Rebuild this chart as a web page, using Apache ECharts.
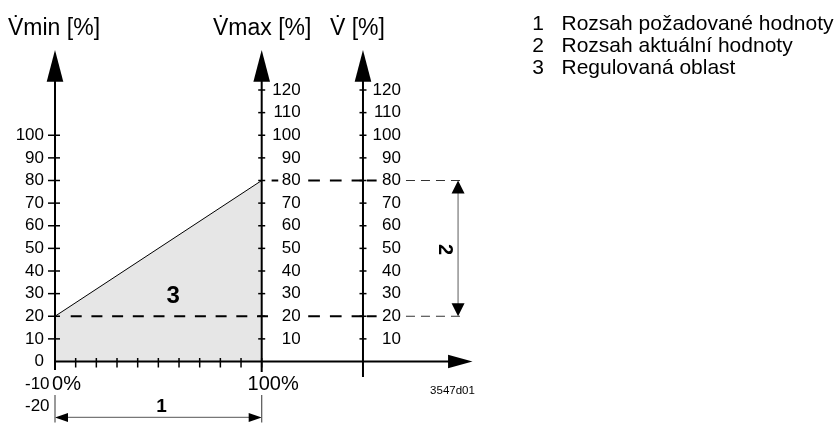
<!DOCTYPE html>
<html>
<head>
<meta charset="utf-8">
<script src="https://cdn.jsdelivr.net/npm/echarts@6/dist/echarts.min.js"></script>
<style>html,body{margin:0;padding:0;background:#fff}#c{width:840px;height:423px}</style>
</head>
<body>
<div id="c"></div>
<script>
// ---------------- DATA ----------------
const xTickValues = [0, 10, 20, 30, 40, 50, 60, 70, 80, 90, 100];
const xLabelValues = [0, 100];                      // shown as 0% / 100%
const vminTickValues = [10, 20, 30, 40, 50, 60, 70, 80, 90, 100];
const vminLabelValues = [0, 10, 20, 30, 40, 50, 60, 70, 80, 90, 100];
const vminExtraLabels = [-10, -20];
const vmaxTickValues = [10, 20, 30, 40, 50, 60, 70, 80, 90, 100, 110, 120];
const vTickValues = [10, 20, 30, 40, 50, 60, 70, 80, 90, 100, 110, 120];
const regionX = [0, 100];      // setpoint %
const regionY = [20, 80];      // Vmin at 0 %, Vmax at 100 %
const setpointRange = [0, 100];   // dimension "1"
const actualRange = [20, 80];     // dimension "2"
const axisTitles = ['V\u0307min [%]', 'V\u0307max [%]', 'V\u0307 [%]'];
const legendNumbers = ['1', '2', '3'];
const legendTexts = ['Rozsah požadované hodnoty', 'Rozsah aktuální hodnoty', 'Regulovaná oblast'];
const drawingCode = '3547d01';

// ---------------- LAYOUT ----------------
const FONT = '"Liberation Sans", Arial, Helvetica, sans-serif';
const X_MIN = 0, X_MAX = 202, Y_MIN = -27, Y_MAX = 138;
const GRID_LEFT = 55, PX_X = 2.067, PX_Y = 2.2625, Y0_PX = 361.5;
const X_VMAX = 100, X_V = 149, X_DIM2 = 195, Y_DIM1 = -24.7, Y_TIP = 137.7;
const gridWidth = (X_MAX - X_MIN) * PX_X;
const gridTop = Y0_PX - Y_MAX * PX_Y;
const gridBottomPx = Y0_PX - Y_MIN * PX_Y;

const chart = echarts.init(document.getElementById('c'), null, {renderer: 'canvas'});

const lbl = {fontSize: 17, color: '#000', fontFamily: FONT};
function yAx(extra) {
  return Object.assign({
    type: 'value', min: Y_MIN, max: Y_MAX, position: 'left',
    axisLine: {show: false}, axisTick: {show: false}, splitLine: {show: false}
  }, extra);
}

function renderAll(params, api) {
  const c = (x, y) => api.coord([x, y]);
  const ch = [];
  const L = (p, q, st) => ch.push({type: 'line', shape: {x1: p[0], y1: p[1], x2: q[0], y2: q[1]},
    style: Object.assign({stroke: '#000', lineWidth: 1}, st || {})});
  const P = (pts, fill) => ch.push({type: 'polygon', shape: {points: pts}, style: {fill: fill || '#000'}});
  const T = (p, txt, font, extra) => ch.push(Object.assign({type: 'text', x: p[0], y: p[1],
    style: {text: txt, font: font, fill: '#000', align: 'center', verticalAlign: 'middle'}}, extra || {}));

  // dashed helper lines
  const thick = {lineWidth: 2, lineDash: [11, 9.7]};
  L(c(7.6, actualRange[0]), c(104, actualRange[0]), thick);
  L(c(104.8, actualRange[1]), c(108, actualRange[1]), {lineWidth: 2});
  actualRange.forEach(v => {
    L(c(122.5, v), c(X_V + 0.2, v), {lineWidth: 2, lineDash: [11.7, 10]});
    L(c(X_V + 1.9, v), c(X_V + 6.6, v), {lineWidth: 2});
    L(c(169.8, v), c(197.2, v), {stroke: '#333', lineWidth: 1, lineDash: [9, 6]});
  });

  // vertical axes with arrows
  [[0, 8.5], [X_VMAX, 10.5], [X_V, 15.5]].forEach(([xv, below]) => {
    const b = c(xv, 0), tip = c(xv, Y_TIP);
    L([b[0], b[1] + below], [b[0], tip[1] + 30], {lineWidth: 2});
    P([[tip[0], tip[1]], [tip[0] - 8.3, tip[1] + 31.7], [tip[0] + 8.3, tip[1] + 31.7]]);
  });
  // x axis with arrow
  const o = c(0, 0), xt = c(X_MAX, 0);
  L(o, [xt[0] - 23, xt[1]], {lineWidth: 2});
  P([[xt[0], xt[1]], [xt[0] - 24.5, xt[1] - 6.7], [xt[0] - 24.5, xt[1] + 6.7]]);

  // ticks
  xTickValues.forEach(v => { const p = c(v, 0); L([p[0], p[1] - 3.5], [p[0], p[1] + 6], {lineWidth: 1.5}); });
  vminTickValues.forEach(v => { const p = c(0, v); L([p[0] - 7, p[1]], [p[0] + 5, p[1]], {lineWidth: 1.5}); });
  vmaxTickValues.forEach(v => { const p = c(X_VMAX, v); L([p[0] - 3.5, p[1]], [p[0] + 3.5, p[1]], {lineWidth: 1.5}); });
  vTickValues.forEach(v => { const p = c(X_V, v); L([p[0] - 3.5, p[1]], [p[0] + 3.5, p[1]], {lineWidth: 1.5}); });

  // dimension 2 (actual value range)
  const d2a = c(X_DIM2, actualRange[1]), d2b = c(X_DIM2, actualRange[0]);
  L([d2a[0], d2a[1] + 10], [d2b[0], d2b[1] - 10], {stroke: '#777', lineWidth: 1.2});
  P([d2a, [d2a[0] - 6.5, d2a[1] + 13], [d2a[0] + 6.5, d2a[1] + 13]]);
  P([d2b, [d2b[0] - 6.5, d2b[1] - 13], [d2b[0] + 6.5, d2b[1] - 13]]);

  // dimension 1 (setpoint range)
  const d1a = c(setpointRange[0], Y_DIM1), d1b = c(setpointRange[1], Y_DIM1);
  L([d1a[0] + 10, d1a[1]], [d1b[0] - 10, d1b[1]], {stroke: '#777', lineWidth: 1.2});
  P([d1a, [d1a[0] + 13, d1a[1] - 4.5], [d1a[0] + 13, d1a[1] + 4.5]]);
  P([d1b, [d1b[0] - 13, d1b[1] - 4.5], [d1b[0] - 13, d1b[1] + 4.5]]);
  setpointRange.forEach(v => L(c(v, -14.8), c(v, Y_MIN), {stroke: '#555', lineWidth: 1.2}));

  // annotation numbers
  T(c(57.2, 29), '3', 'bold 24px ' + FONT);
  T(c(51.5, -20.1), '1', 'bold 19px ' + FONT);
  T(c(188.3, 49.5), '2', 'bold 20px ' + FONT, {rotation: -Math.PI / 2});
  T(c(192.3, -12.9), drawingCode, '11.5px ' + FONT);

  return {type: 'group', children: ch};
}

const graphics = [];
[[8, 29], [213, 29], [330, 29]].forEach((p, i) => graphics.push({
  type: 'text', x: p[0], y: p[1],
  style: {text: axisTitles[i], font: '23px ' + FONT, fill: '#000', align: 'left', verticalAlign: 'middle'}
}));
[24, 46, 68].forEach((y, i) => {
  graphics.push({type: 'text', x: 544, y: y,
    style: {text: legendNumbers[i], font: '21px ' + FONT, fill: '#000', align: 'right', verticalAlign: 'middle'}});
  graphics.push({type: 'text', x: 561.5, y: y,
    style: {text: legendTexts[i], font: '21px ' + FONT, fill: '#000', align: 'left', verticalAlign: 'middle'}});
});

chart.setOption({
  animation: false,
  backgroundColor: '#fff',
  grid: {left: GRID_LEFT, width: gridWidth, top: gridTop, height: gridBottomPx - gridTop},
  xAxis: {
    type: 'value', min: X_MIN, max: X_MAX, position: 'bottom',
    offset: -(gridBottomPx - Y0_PX),
    axisLine: {show: false, onZero: false}, axisTick: {show: false}, splitLine: {show: false},
    axisLabel: {customValues: xLabelValues, formatter: v => v + '%', fontSize: 20, color: '#000',
      fontFamily: FONT, margin: 13, padding: [0, 0, 0, 23]}
  },
  yAxis: [
    yAx({axisLabel: Object.assign({customValues: vminLabelValues, margin: 11, align: 'right'}, lbl)}),
    yAx({axisLabel: Object.assign({customValues: vminExtraLabels, margin: 30, align: 'left'}, lbl)}),
    yAx({offset: -(X_VMAX * PX_X), axisLabel: Object.assign({customValues: vmaxTickValues, inside: true, margin: 39, align: 'right'}, lbl)}),
    yAx({offset: -(X_V * PX_X), axisLabel: Object.assign({customValues: vTickValues, inside: true, margin: 38, align: 'right'}, lbl)})
  ],
  graphic: graphics,
  series: [
    {
      type: 'line', data: regionX.map((x, i) => [x, regionY[i]]), symbol: 'none', silent: true,
      lineStyle: {color: '#000', width: 1}, areaStyle: {color: '#e6e6e6', opacity: 1}, z: 1
    },
    {
      type: 'custom', data: [[0, 0]], renderItem: renderAll, silent: true, z: 3, clip: false
    }
  ]
});
</script>
</body>
</html>
